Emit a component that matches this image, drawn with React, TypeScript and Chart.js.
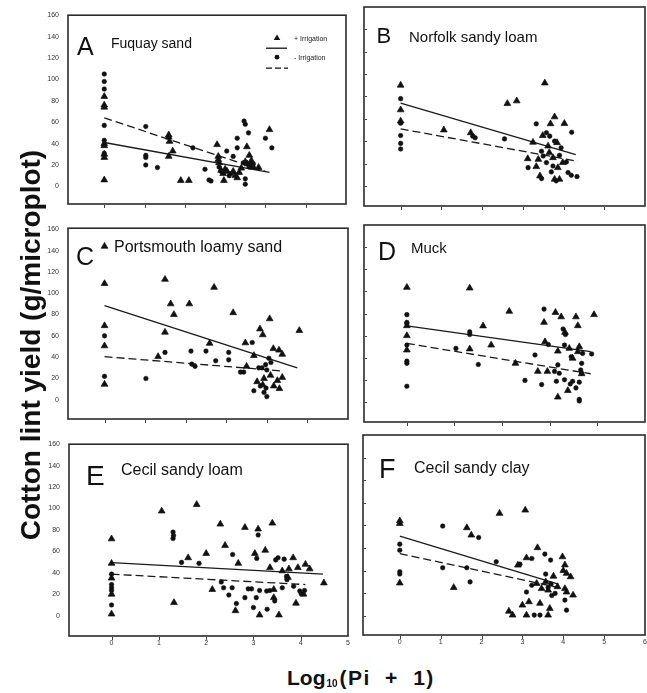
import React, { useEffect, useRef } from "react";
import { Chart, registerables } from "chart.js";

Chart.register(...registerables);

type Pt = [number, number];

// ---------- DATA ----------
// Panel A – Fuquay sand
const fuquayIrrigated: Pt[] = [
  [0, 84], [0, 76], [0, 74], [0, 40], [0, 38], [0, 30], [0, 27], [0, 6],
  [1.6, 48], [1.6, 46], [1.62, 42], [1.6, 28], [1.7, 33], [1.9, 5.5], [2.1, 5.5],
  [2.8, 39], [2.83, 28], [2.83, 25], [2.85, 22], [2.9, 15], [2.95, 12], [3.0, 16], [3.05, 14], [2.97, 5.5],
  [3.2, 14], [3.25, 10], [3.3, 8], [3.35, 13], [3.4, 17], [3.54, 37], [3.6, 29], [3.5, 23], [3.55, 21],
  [3.62, 20], [3.7, 18], [3.65, 24], [3.83, 17.6], [4.1, 53],
];
const fuquayNonIrrigated: Pt[] = [
  [0, 105], [0, 98], [0, 91], [0, 57], [0, 43], [0, 31],
  [1.03, 56], [1.03, 29], [1.03, 27], [1.03, 20], [1.32, 17.6],
  [2.2, 36], [2.5, 16], [2.6, 6], [2.65, 5], [2.85, 18], [2.9, 14], [3.04, 33], [3.2, 28], [3.3, 36],
  [3.3, 45], [3.1, 10], [3.15, 12], [3.47, 61], [3.5, 58], [3.58, 50], [3.45, 22], [3.5, 7], [3.5, 2],
  [3.6, 18], [3.7, 21], [4.0, 45], [4.16, 36],
];
const fuquayFitIrrigated: Pt[] = [[0, 41], [4.1, 13]];
const fuquayFitNonIrrigated: Pt[] = [[0, 64], [4.0, 14]];

// Panel B – Norfolk sandy loam
const norfolkIrrigated: Pt[] = [
  [0, 90], [0, 68], [0, 58], [1.06, 50], [1.72, 47.5], [2.62, 73.6], [2.85, 76], [3.54, 92],
  [3.68, 55.5], [3.78, 61.7], [4.02, 55.8], [3.25, 39], [3.49, 45], [3.62, 35.6], [3.65, 29.7],
  [3.74, 25.2], [3.38, 23.7], [3.98, 20.8], [3.12, 24.3], [3.42, 8.9], [3.78, 5.9], [3.9, 5.9],
  [3.33, 17.2], [3.86, 16.3], [3.84, 38.6],
];
const norfolkNonIrrigated: Pt[] = [
  [0, 78], [0, 56], [0, 45], [0, 38], [0, 33], [1.77, 44.5], [1.83, 43], [2.55, 42], [3.33, 55.5],
  [4.2, 48], [3.58, 47.5], [3.66, 44.5], [3.78, 40], [3.94, 34], [3.46, 31], [3.5, 26.7], [3.9, 27.3],
  [3.58, 20.8], [4.07, 21.4], [3.13, 16.3], [3.74, 17.8], [3.46, 6.5], [3.82, 4.5], [4.11, 11.9],
  [4.19, 9.5], [4.33, 8.3], [3.7, 12.5],
];
const norfolkFitIrrigated: Pt[] = [[0, 74], [4.3, 28]];
const norfolkFitNonIrrigated: Pt[] = [[0, 51], [4.35, 22]];

// Panel C – Portsmouth loamy sand
const portsmouthIrrigated: Pt[] = [
  [0, 144], [0, 109], [0, 69.5], [0, 50.6], [0, 14.6], [1.32, 40.5], [1.49, 113], [1.49, 63.4],
  [1.63, 90], [1.71, 80], [2.09, 90], [2.7, 105.5], [2.59, 53], [3.17, 81.7], [3.5, 31.4], [3.47, 53.4],
  [3.83, 66.5], [3.9, 61], [4.07, 76], [4.16, 48], [4.3, 46.6], [4.38, 42.7], [4.8, 65], [3.68, 41.5],
  [3.76, 17], [3.93, 20], [4.09, 23], [4.26, 18], [4.38, 21], [4.17, 13], [4.31, 10.5], [3.9, 14],
];
const portsmouthNonIrrigated: Pt[] = [
  [0, 60], [0, 22], [1.02, 20], [1.49, 44.5], [2.13, 45.7], [2.15, 33.5], [2.23, 31.4], [2.5, 45.7],
  [2.74, 36.6], [3.06, 44.5], [3.06, 37.5], [3.35, 26], [3.43, 26], [3.64, 53.7], [4.05, 39], [3.97, 33],
  [3.88, 30], [4.0, 28], [3.8, 30], [4.1, 35], [3.68, 8.5], [3.93, 7], [3.84, 13], [3.98, 11], [4.0, 3],
];
const portsmouthFitIrrigated: Pt[] = [[0, 88.4], [4.75, 30]];
const portsmouthFitNonIrrigated: Pt[] = [[0, 40.5], [4.4, 27]];

// Panel D – Muck
const muckIrrigated: Pt[] = [
  [0, 103.6], [0, 69], [0, 60], [0, 47], [1.32, 103], [1.32, 48], [1.6, 68.8], [1.77, 51.5], [2.15, 82],
  [2.28, 35], [2.88, 72], [2.9, 54.5], [2.75, 27.7], [2.95, 27.7], [3.12, 81], [3.24, 77], [3.32, 63],
  [3.55, 77], [3.59, 69], [3.93, 79], [3.17, 46], [3.41, 48.5], [3.62, 50], [3.59, 45.5], [3.48, 39.6],
  [3.67, 25.6], [3.17, 4.5], [3.38, 10.4],
];
const muckNonIrrigated: Pt[] = [
  [0, 79], [0, 72], [0, 71], [0, 51.5], [0, 37], [0, 35], [0, 14.3], [1.03, 48.5], [1.32, 63.4],
  [1.32, 61], [1.5, 34], [2.48, 19.6], [2.69, 42.6], [2.83, 15.8], [2.88, 84], [2.97, 52], [3.1, 27.7],
  [3.28, 66], [3.33, 61], [3.31, 51.5], [3.69, 44], [3.45, 41], [3.67, 35], [3.65, 29], [3.67, 26],
  [3.17, 33.6], [3.2, 26], [3.14, 18.8], [3.31, 20.2], [3.48, 18.8], [3.43, 16.4], [3.55, 12.8],
  [3.62, 18], [3.62, 2.4], [3.62, 1], [3.88, 43.5],
];
const muckFitIrrigated: Pt[] = [[0, 68.8], [3.86, 45.5]];
const muckFitNonIrrigated: Pt[] = [[0, 53], [3.86, 25.6]];

// Panel E – Cecil sandy loam
const cecilLoamIrrigated: Pt[] = [
  [0, 71.6], [0, 48.8], [0, 35], [0, 20], [0, 1.5], [1.06, 97.6], [1.8, 103.7], [1.32, 12.2], [1.62, 54],
  [2.0, 58], [2.13, 24.4], [2.3, 85.4], [2.4, 65.5], [2.68, 48.8], [2.62, 4.6], [2.82, 82.3], [3.1, 80.8],
  [3.03, 58], [3.13, 0.6], [3.25, 61], [3.35, 44.8], [3.4, 86.3], [3.43, 24.4], [3.43, 16.8], [3.54, 0.6],
  [3.61, 41.8], [3.75, 43.6], [3.73, 35.7], [3.84, 54], [3.9, 11.6], [3.94, 44.8], [4.06, 20], [4.1, 47.9],
  [4.19, 43.6], [4.49, 30.5],
];
const cecilLoamNonIrrigated: Pt[] = [
  [0, 38.7], [0, 29], [0, 26], [0, 23.5], [0, 10], [1.3, 78], [1.31, 74.7], [1.3, 72], [1.48, 49.7],
  [1.85, 48.8], [2.32, 31.4], [2.37, 26], [2.55, 26], [2.56, 57], [2.48, 19.2], [2.64, 11.3], [2.82, 16.8],
  [2.89, 25], [2.96, 25], [3.1, 75.3], [3.07, 53.4], [3.0, 7.6], [3.06, 16.8], [3.13, 23.5], [3.28, 23],
  [3.35, 23.5], [3.29, 6], [3.47, 52], [3.52, 54], [3.45, 13.7], [3.61, 26], [3.65, 52.7], [3.7, 36.6],
  [3.71, 33.5], [3.85, 27.4], [3.98, 23], [4.01, 20.4], [4.08, 23.5],
];
const cecilLoamFitIrrigated: Pt[] = [[0, 49.4], [4.47, 38.7]];
const cecilLoamFitNonIrrigated: Pt[] = [[0, 38.7], [4.1, 29]];

// Panel F – Cecil sandy clay
const cecilClayIrrigated: Pt[] = [
  [0, 84], [0, 81.7], [0, 29], [1.32, 25], [1.64, 77.9], [1.75, 71.4], [2.44, 90.6], [3.07, 93.5],
  [2.67, 4], [2.76, 0.6], [2.89, 44.8], [3.1, 51.3], [3.37, 60.2], [3.98, 52.2], [4.04, 45], [4.0, 40],
  [3.76, 35], [4.08, 37.5], [4.18, 34.5], [3.35, 28.6], [3.47, 24], [3.63, 22.7], [3.86, 25.7], [4.04, 24],
  [4.08, 21], [4.24, 18.3], [3.43, 11], [3.0, 9.4], [3.16, 12.4], [3.67, 6.5], [3.1, 0.6], [3.63, 0.6],
  [3.57, 30],
];
const cecilClayNonIrrigated: Pt[] = [
  [0, 63.4], [0, 58], [0, 39], [0, 37], [1.05, 79.4], [1.05, 42.5], [1.93, 69.3], [1.64, 42.5], [1.72, 30],
  [2.36, 47.8], [2.94, 45.7], [3.23, 50.7], [3.55, 54.6], [3.69, 49.3], [3.57, 36.9], [3.1, 21], [3.23, 27],
  [3.72, 18], [3.8, 19.8], [4.04, 13.9], [3.29, 0.6], [3.43, 0.6], [4.08, 5], [3.63, 25], [3.7, 28],
];
const cecilClayFitIrrigated: Pt[] = [[0, 70.5], [3.88, 28]];
const cecilClayFitNonIrrigated: Pt[] = [[0, 55], [3.88, 25]];

const yTickValues = [0, 20, 40, 60, 80, 100, 120, 140, 160];
const xTickValuesTo5 = [0, 1, 2, 3, 4, 5];
const xTickValuesTo6 = [0, 1, 2, 3, 4, 5, 6];
const legendLabels = ["+ Irrigation", "- Irrigation"];
const yAxisTitle = "Cotton lint yield (g/microplot)";

// ---------- LAYOUT ----------
const FONT = '"Liberation Sans", Arial, Helvetica, sans-serif';
const PAD_L = 32, PAD_T = 8, PAD_R = 6, PAD_B = 22;
const INK = "#111";

interface PanelSpec {
  id: string;
  letter: string;
  name: string;
  irr: Pt[];
  noIrr: Pt[];
  fitIrr: Pt[];
  fitNo: Pt[];
  box: { l: number; t: number; r: number; b: number };
  xMax: number;
  xTicks: number[];
  yMin: number;
  yMax: number;
  yLabels: boolean;
  xLabels: boolean;
  letterSize: number; letterDx: number; letterDy: number;
  nameSize: number; nameDx: number; nameDy: number;
  legend?: boolean;
}

const panels: PanelSpec[] = [
  { id: "A", letter: "A", name: "Fuquay sand", irr: fuquayIrrigated, noIrr: fuquayNonIrrigated,
    fitIrr: fuquayFitIrrigated, fitNo: fuquayFitNonIrrigated, box: { l: 68, t: 10, r: 346, b: 204 },
    xMax: 6, xTicks: xTickValuesTo6, yMin: -16.5, yMax: 160, yLabels: true, xLabels: false,
    letterSize: 25, letterDx: 9, letterDy: 40, nameSize: 14, nameDx: 43, nameDy: 33, legend: true },
  { id: "B", letter: "B", name: "Norfolk sandy loam", irr: norfolkIrrigated, noIrr: norfolkNonIrrigated,
    fitIrr: norfolkFitIrrigated, fitNo: norfolkFitNonIrrigated, box: { l: 364, t: 7, r: 645, b: 206 },
    xMax: 6, xTicks: xTickValuesTo6, yMin: -18, yMax: 160, yLabels: false, xLabels: false,
    letterSize: 22, letterDx: 12.5, letterDy: 36, nameSize: 15, nameDx: 45, nameDy: 35 },
  { id: "C", letter: "C", name: "Portsmouth loamy sand", irr: portsmouthIrrigated, noIrr: portsmouthNonIrrigated,
    fitIrr: portsmouthFitIrrigated, fitNo: portsmouthFitNonIrrigated, box: { l: 68, t: 223, r: 348, b: 419 },
    xMax: 6, xTicks: xTickValuesTo6, yMin: -18, yMax: 161, yLabels: true, xLabels: false,
    letterSize: 25, letterDx: 8, letterDy: 37, nameSize: 16, nameDx: 46, nameDy: 24 },
  { id: "D", letter: "D", name: "Muck", irr: muckIrrigated, noIrr: muckNonIrrigated,
    fitIrr: muckFitIrrigated, fitNo: muckFitNonIrrigated, box: { l: 364, t: 225, r: 645, b: 422 },
    xMax: 5, xTicks: xTickValuesTo5, yMin: -18, yMax: 160, yLabels: false, xLabels: false,
    letterSize: 25, letterDx: 14, letterDy: 35, nameSize: 15, nameDx: 47, nameDy: 28 },
  { id: "E", letter: "E", name: "Cecil sandy loam", irr: cecilLoamIrrigated, noIrr: cecilLoamNonIrrigated,
    fitIrr: cecilLoamFitIrrigated, fitNo: cecilLoamFitNonIrrigated, box: { l: 69, t: 439, r: 348, b: 636 },
    xMax: 5, xTicks: xTickValuesTo5, yMin: -19, yMax: 160, yLabels: true, xLabels: true,
    letterSize: 28, letterDx: 17, letterDy: 41, nameSize: 16, nameDx: 52, nameDy: 31 },
  { id: "F", letter: "F", name: "Cecil sandy clay", irr: cecilClayIrrigated, noIrr: cecilClayNonIrrigated,
    fitIrr: cecilClayFitIrrigated, fitNo: cecilClayFitNonIrrigated, box: { l: 363, t: 435, r: 645, b: 635 },
    xMax: 6, xTicks: xTickValuesTo6, yMin: -17, yMax: 160, yLabels: false, xLabels: true,
    letterSize: 27, letterDx: 16, letterDy: 43, nameSize: 16, nameDx: 51, nameDy: 38 },
];

const toXY = (pts: Pt[]) => pts.map(([x, y]) => ({ x, y }));

function makeDecorPlugin(spec: PanelSpec) {
  return {
    id: "panelDecor" + spec.id,
    afterDraw(chart: any) {
      const { ctx, chartArea: ca, scales } = chart;
      ctx.save();
      ctx.strokeStyle = "#2b2b2b";
      ctx.lineWidth = 1.6;
      ctx.strokeRect(ca.left, ca.top, ca.right - ca.left, ca.bottom - ca.top);
      ctx.lineWidth = 1;
      ctx.strokeStyle = "#444";
      for (const v of spec.xTicks) {
        const px = Math.round(scales.x.getPixelForValue(v)) + 0.5;
        if (px > ca.right - 1) continue;
        ctx.beginPath();
        ctx.moveTo(px, ca.bottom + 1);
        ctx.lineTo(px, ca.bottom + 4);
        ctx.stroke();
      }
      if (!spec.yLabels) {
        for (const v of yTickValues) {
          const py = Math.round(scales.y.getPixelForValue(v)) + 0.5;
          if (py < ca.top + 2) continue;
          ctx.beginPath();
          ctx.moveTo(ca.left + 1, py);
          ctx.lineTo(ca.left + 3, py);
          ctx.stroke();
        }
      }
      ctx.fillStyle = INK;
      ctx.textAlign = "left";
      ctx.textBaseline = "alphabetic";
      ctx.font = `${spec.letterSize}px ${FONT}`;
      ctx.fillText(spec.letter, ca.left + spec.letterDx, ca.top + spec.letterDy);
      ctx.font = `${spec.nameSize}px ${FONT}`;
      ctx.fillText(spec.name, ca.left + spec.nameDx, ca.top + spec.nameDy);
      if (spec.legend) {
        const lx = ca.left, ly = ca.top;
        const r = 3.8, cx = lx + 209, cy = ly + 23;
        ctx.beginPath();
        for (let k = 0; k < 3; k++) {
          const a = (k * 2 * Math.PI) / 3;
          const px = cx + Math.sin(a) * r, py = cy - Math.cos(a) * r;
          if (k === 0) ctx.moveTo(px, py); else ctx.lineTo(px, py);
        }
        ctx.closePath();
        ctx.fill();
        ctx.strokeStyle = INK;
        ctx.lineWidth = 1.3;
        ctx.beginPath();
        ctx.moveTo(lx + 198, ly + 33);
        ctx.lineTo(lx + 219, ly + 33);
        ctx.stroke();
        ctx.beginPath();
        ctx.arc(lx + 209, ly + 42, 2.4, 0, Math.PI * 2);
        ctx.fill();
        ctx.setLineDash([6, 3]);
        ctx.beginPath();
        ctx.moveTo(lx + 198, ly + 53);
        ctx.lineTo(lx + 220, ly + 53);
        ctx.stroke();
        ctx.setLineDash([]);
        ctx.font = `7px ${FONT}`;
        ctx.textBaseline = "middle";
        ctx.fillStyle = "#222";
        ctx.fillText(legendLabels[0], lx + 226, ly + 24);
        ctx.fillText(legendLabels[1], lx + 226, ly + 43);
      }
      ctx.restore();
    },
  };
}

function Panel({ spec }: { spec: PanelSpec }) {
  const ref = useRef<HTMLCanvasElement | null>(null);
  const w = spec.box.r - spec.box.l + PAD_L + PAD_R;
  const h = spec.box.b - spec.box.t + PAD_T + PAD_B;

  useEffect(() => {
    const canvas = ref.current;
    if (!canvas) return;
    const tickFont = { size: 7, family: FONT };
    const chart = new Chart(canvas, {
      type: "scatter",
      data: {
        datasets: [
          {
            label: legendLabels[0],
            data: toXY(spec.irr),
            pointStyle: "triangle",
            pointRadius: 3.9,
            backgroundColor: INK,
            borderColor: INK,
            borderWidth: 0.7,
          },
          {
            label: legendLabels[1],
            data: toXY(spec.noIrr),
            pointStyle: "circle",
            pointRadius: 2.3,
            backgroundColor: INK,
            borderColor: INK,
            borderWidth: 0.5,
          },
          {
            label: "fit +",
            data: toXY(spec.fitIrr),
            showLine: true,
            pointRadius: 0,
            borderColor: "#1a1a1a",
            borderWidth: 1.3,
            fill: false,
          },
          {
            label: "fit -",
            data: toXY(spec.fitNo),
            showLine: true,
            pointRadius: 0,
            borderColor: "#1a1a1a",
            borderWidth: 1.3,
            borderDash: [8, 4],
            fill: false,
          },
        ] as any,
      },
      options: {
        responsive: false,
        animation: false,
        devicePixelRatio: 1,
        layout: { padding: { left: 0, top: PAD_T, right: PAD_R, bottom: 0 } },
        plugins: { legend: { display: false }, tooltip: { enabled: false } },
        scales: {
          x: {
            type: "linear",
            min: -0.9,
            max: spec.xMax,
            grid: { display: false, drawTicks: false },
            border: { display: false },
            ticks: {
              display: spec.xLabels,
              autoSkip: false,
              font: tickFont,
              color: "#333",
              padding: 3,
              maxRotation: 0,
            },
            afterBuildTicks: (s: any) => {
              s.ticks = spec.xTicks.map((v) => ({ value: v }));
            },
            afterFit: (s: any) => {
              s.height = PAD_B;
            },
          },
          y: {
            type: "linear",
            min: spec.yMin,
            max: spec.yMax,
            grid: { display: false, drawTicks: false },
            border: { display: false },
            ticks: {
              display: spec.yLabels,
              autoSkip: false,
              font: tickFont,
              color: "#333",
              padding: 9,
            },
            afterBuildTicks: (s: any) => {
              s.ticks = yTickValues.map((v) => ({ value: v }));
            },
            afterFit: (s: any) => {
              s.width = PAD_L;
            },
          },
        },
      } as any,
      plugins: [makeDecorPlugin(spec)],
    });
    return () => chart.destroy();
  }, [spec]);

  return (
    <canvas
      ref={ref}
      width={w}
      height={h}
      style={{
        position: "absolute",
        left: spec.box.l - PAD_L,
        top: spec.box.t - PAD_T,
        width: w,
        height: h,
      }}
    />
  );
}

export default function App() {
  return (
    <div
      style={{
        position: "absolute",
        left: 0,
        top: 0,
        width: 647,
        height: 693,
        background: "#fff",
        overflow: "hidden",
        fontFamily: FONT,
      }}
    >
      {panels.map((p) => (
        <Panel key={p.id} spec={p} />
      ))}
      <div
        style={{
          position: "absolute",
          left: 31 - 220,
          top: 345 - 15,
          width: 440,
          height: 30,
          lineHeight: "30px",
          textAlign: "center",
          fontWeight: "bold",
          fontSize: 28,
          color: INK,
          transform: "rotate(-90deg)",
          whiteSpace: "nowrap",
        }}
      >
        {yAxisTitle}
      </div>
      <div
        style={{
          position: "absolute",
          left: 287,
          top: 666,
          height: 24,
          lineHeight: "24px",
          fontWeight: "bold",
          fontSize: 21,
          color: INK,
          whiteSpace: "pre",
        }}
      >
        Log
        <span style={{ fontSize: 10, position: "relative", top: 2, marginLeft: 1, marginRight: 2 }}>10</span>
        <span style={{ letterSpacing: 1.4 }}>{"(Pi  +  1)"}</span>
      </div>
    </div>
  );
}
